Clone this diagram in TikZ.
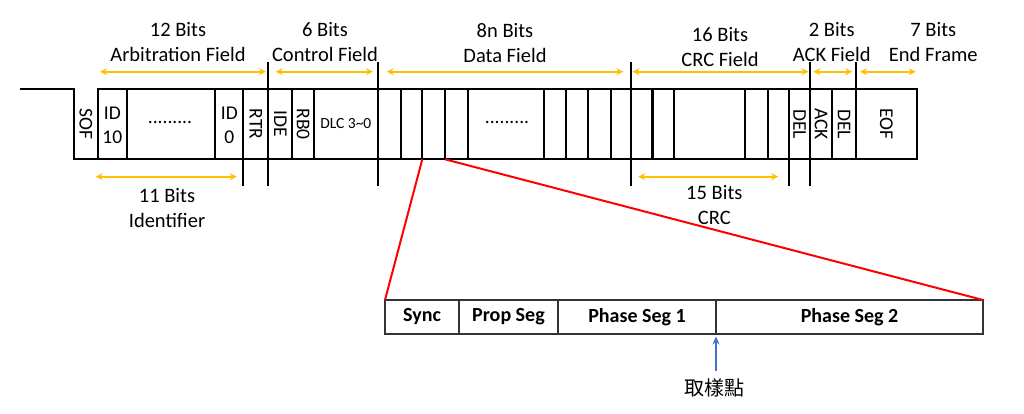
\documentclass[tikz,border=0pt]{standalone}
\usepackage{fontspec}
\setmainfont{Carlito}
\newfontfamily\cjk{Noto Sans CJK TC}
\usetikzlibrary{arrows.meta}
\definecolor{ylw}{HTML}{FFC000}
\definecolor{bluearr}{HTML}{4472C4}
\begin{document}
\begin{tikzpicture}[x=1pt,y=-1pt,
  frame/.style={line width=2.2pt, black, line cap=rect},
  yarr/.style={draw=ylw, line width=1.8pt, {Stealth[length=7pt,width=7pt]}-{Stealth[length=7pt,width=7pt]}},
  lbl/.style={font=\fontsize{20.5}{25}\selectfont, align=center, inner sep=0pt},
  cell/.style={font=\fontsize{19.5}{24}\selectfont, align=center, inner sep=0pt},
  vcell/.style={cell, rotate=-90},
  seg/.style={font=\bfseries\fontsize{20}{24}\selectfont, inner sep=0pt},
  segbox/.style={draw=black!80, line width=1.3pt},
  redl/.style={draw=red, line width=2pt}
]
\useasboundingbox (0,0) rectangle (1024,414);
% frame outline
\draw[frame] (21,89.3) -- (74,89.3) -- (74,159.3) -- (916.7,159.3) -- (916.7,89.3) -- (98,89.3) -- (98,159.3);
% inner dividers
\foreach \x in {126.7,215.3,292.3,314,401,422.3,445,467.7,544,565.7,588.3,610.7,652.5,674,745.3,767.7,832}
  \draw[frame] (\x,89.3) -- (\x,159.3);
\foreach \x in {243.3,788.7}
  \draw[frame] (\x,89.3) -- (\x,185);
\foreach \x in {268.3,377.7,630.7,810.3}
  \draw[frame] (\x,63) -- (\x,185);
\draw[frame] (856,63) -- (856,159.3);
% arrow end points
\coordinate (arbL) at (100,71.7);   \coordinate (arbR) at (266,71.7);
\coordinate (ctlL) at (275.7,71.7); \coordinate (ctlR) at (373,71.7);
\coordinate (datL) at (386.7,71.7); \coordinate (datR) at (623.3,71.7);
\coordinate (crcL) at (632.5,71.7); \coordinate (crcR) at (808.5,71.7);
\coordinate (ackL) at (813.3,71.7); \coordinate (ackR) at (852.3,71.7);
\coordinate (eofL) at (860,71.7);   \coordinate (eofR) at (915.7,71.7);
\coordinate (idL) at (95.7,176.7);  \coordinate (idR) at (236.7,176.7);
\coordinate (c15L) at (638.3,176.7); \coordinate (c15R) at (778.3,176.7);
\draw[yarr] (arbL) -- (arbR);
\draw[yarr] (ctlL) -- (ctlR);
\draw[yarr] (datL) -- (datR);
\draw[yarr] (crcL) -- (crcR);
\draw[yarr] (ackL) -- (ackR);
\draw[yarr] (eofL) -- (eofR);
\draw[yarr] (idL) -- (idR);
\draw[yarr] (c15L) -- (c15R);
% field labels
\node[lbl] (tArb) at (178,42.5) {12 Bits\\Arbitration Field};
\node[lbl] (tCtl) at (325,42.5) {6 Bits\\Control Field};
\node[lbl] (tDat) at (505,43.5) {8n Bits\\Data Field};
\node[lbl] (tCrc) at (720,47) {16 Bits\\CRC Field};
\node[lbl] (tAck) at (831.7,42.5) {2 Bits\\ACK Field};
\node[lbl] (tEnd) at (933.3,41.7) {7 Bits\\End Frame};
\node[lbl] (tId) at (167,208.5) {11 Bits\\Identifier};
\node[lbl] (t15) at (714.3,205.5) {15 Bits\\CRC};
% cell labels
\node[vcell] (sof) at (86,124) {SOF};
\node[cell] (id10) at (112.3,125) {ID\\10};
\node[cell] (dots1) at (170,122) {.........};
\node[cell] (id0) at (229.3,125) {ID\\0};
\node[vcell] (rtr) at (255.8,124) {RTR};
\node[vcell] (ide) at (280.3,124) {IDE};
\node[vcell] (rb0) at (303.2,124) {RB0};
\node[cell, font=\fontsize{15.5}{18}\selectfont] (dlc) at (345.8,124) {DLC 3\char"7E 0};
\node[cell] (dots2) at (507,122) {.........};
\node[vcell] (del1) at (799.5,124) {DEL};
\node[vcell] (ack) at (821.2,124) {ACK};
\node[vcell] (del2) at (844,124) {DEL};
\node[vcell] (eof) at (886.3,124) {EOF};
% bit timing box
\draw[segbox] (385,300) rectangle (983,334);
\foreach \x in {459,558,716}
  \draw[segbox] (\x,300) -- (\x,334);
\node[seg] (sync) at (422,317) {Sync};
\node[seg] (prop) at (508.5,317) {Prop Seg};
\node[seg] (ph1) at (637,317) {Phase Seg 1};
\node[seg] (ph2) at (849.5,317) {Phase Seg 2};
% red zoom lines
\coordinate (bitL) at (422.3,159.3); \coordinate (bitR) at (445,159.3);
\coordinate (boxL) at (385,300);     \coordinate (boxR) at (983,300);
\draw[redl] (bitL) -- (boxL);
\draw[redl] (bitR) -- (boxR);
% sample point
\node[inner sep=0pt, font=\cjk\fontsize{20}{22}\selectfont] (samp) at (714,388) {取樣點};
\coordinate (sTop) at (716,336.5); \coordinate (sBot) at (716,371);
\draw[draw=bluearr, line width=1.8pt, -{Stealth[length=8pt,width=7pt]}] (sBot) -- (sTop);
\end{tikzpicture}
\end{document}
